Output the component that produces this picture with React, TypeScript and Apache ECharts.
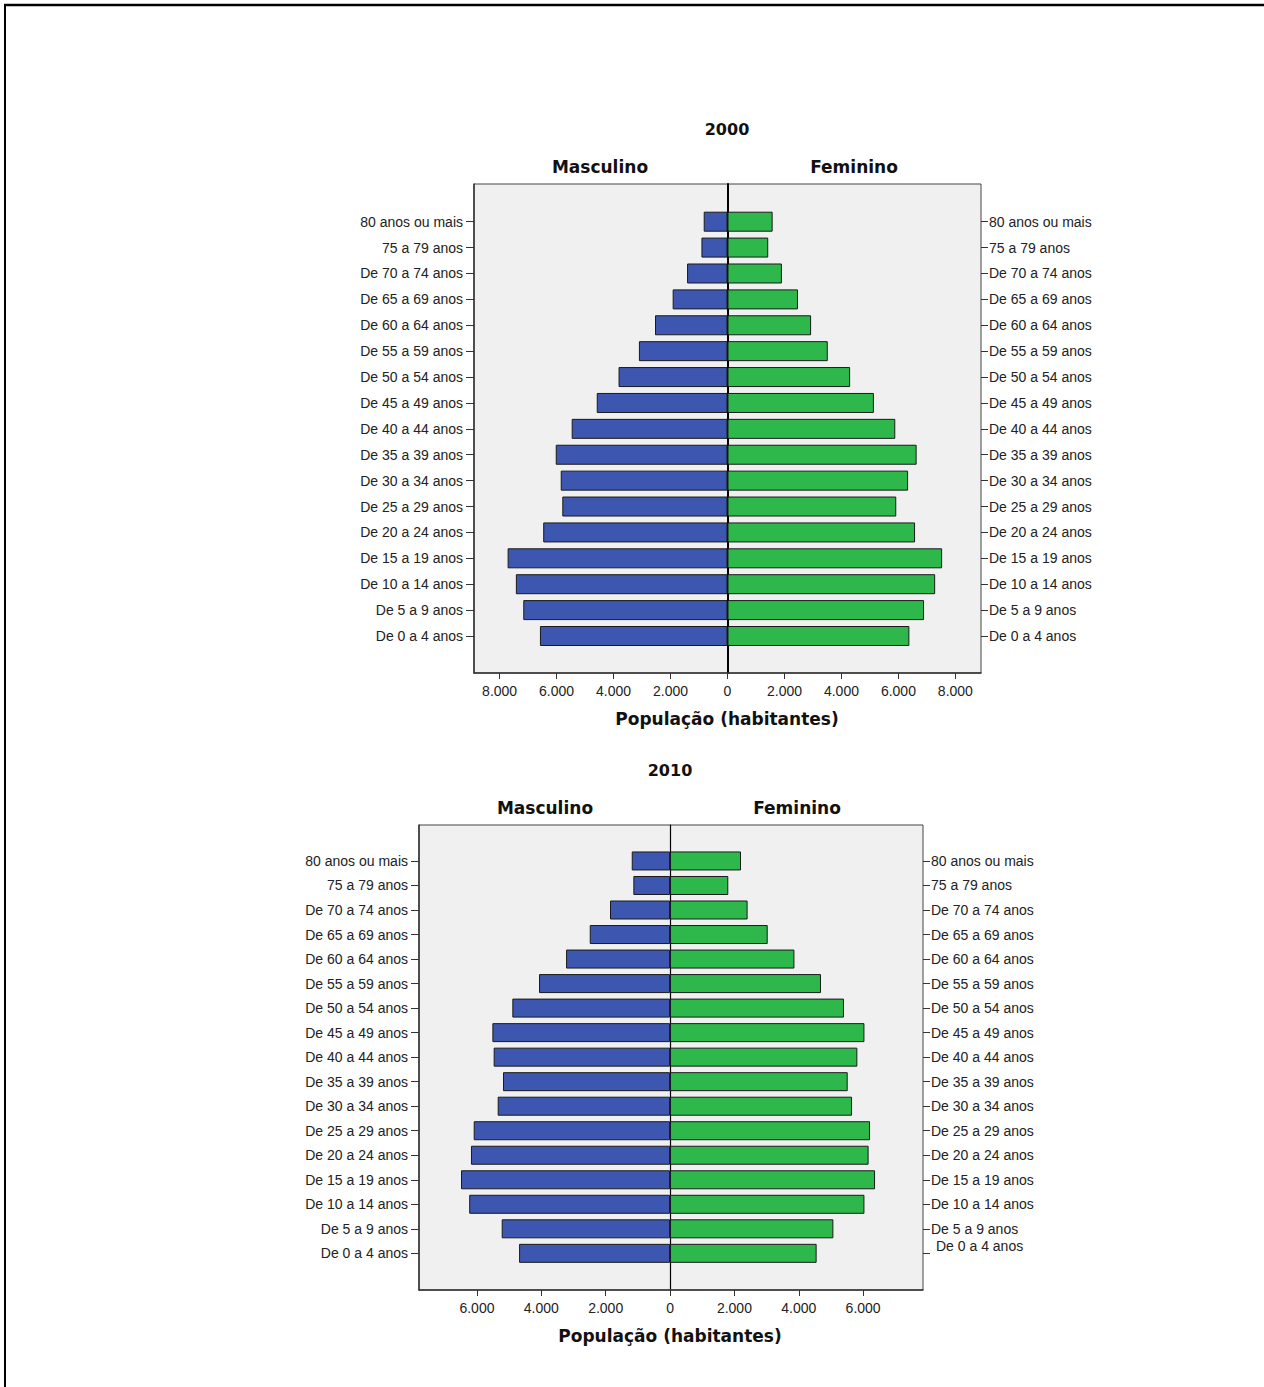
import React, { useEffect, useRef } from "react";
import * as echarts from "echarts";

const categories = [
  "De 0 a 4 anos", "De 5 a 9 anos", "De 10 a 14 anos", "De 15 a 19 anos",
  "De 20 a 24 anos", "De 25 a 29 anos", "De 30 a 34 anos", "De 35 a 39 anos",
  "De 40 a 44 anos", "De 45 a 49 anos", "De 50 a 54 anos", "De 55 a 59 anos",
  "De 60 a 64 anos", "De 65 a 69 anos", "De 70 a 74 anos", "75 a 79 anos",
  "80 anos ou mais",
];

const male2000 = [6585, 7170, 7430, 7720, 6470, 5800, 5855, 6030, 5470, 4590, 3825, 3110, 2545, 1925, 1420, 915, 835];
const female2000 = [6385, 6900, 7290, 7535, 6585, 5925, 6340, 6640, 5890, 5140, 4305, 3520, 2935, 2475, 1910, 1430, 1585];

const male2010 = [4690, 5230, 6240, 6495, 6185, 6100, 5355, 5190, 5480, 5520, 4900, 4070, 3230, 2495, 1865, 1140, 1190];
const female2010 = [4555, 5075, 6040, 6370, 6170, 6215, 5655, 5520, 5820, 6040, 5405, 4690, 3865, 3035, 2410, 1810, 2205];

const ticks2000 = [-8000, -6000, -4000, -2000, 0, 2000, 4000, 6000, 8000];
const ticks2010 = [-6000, -4000, -2000, 0, 2000, 4000, 6000];

const TITLE_FONT = "bold 17px 'DejaVu Sans', Verdana, sans-serif";
const LABEL_FAMILY = "'Liberation Sans', Arial, sans-serif";
const BLUE = "#3d56b0";
const GREEN = "#2eb84b";

const fmt = (v: number) =>
  String(Math.abs(v)).replace(/\B(?=(\d{3})+(?!\d))/g, ".");

function App() {
  const ref = useRef<HTMLDivElement>(null);

  useEffect(() => {
    if (!ref.current) return;
    const chart = echarts.init(ref.current, null, { renderer: "svg" });

    const charts = [
      {
        frame: { left: 474, top: 184, width: 507, height: 489 },
        bars: { left: 474, top: 208.75, width: 507, height: 440.2 },
        min: -8900, max: 8900, ticks: ticks2000,
        male: male2000, female: female2000, barWidth: 20, zeroWidth: 2,
        rightData: categories as any[],
      },
      {
        frame: { left: 419, top: 825, width: 504, height: 465 },
        bars: { left: 419, top: 848.7, width: 504, height: 416.9 },
        min: -7800, max: 7860, ticks: ticks2010,
        male: male2010, female: female2010, barWidth: 19, zeroWidth: 1.2,
        rightData: categories.map((c, i) =>
          i === 0
            ? { value: c, textStyle: { padding: [0, 0, 0, 5], verticalAlign: "bottom" } }
            : c
        ),
      },
    ];

    const grid: any[] = [];
    const xAxis: any[] = [];
    const yAxis: any[] = [];
    const series: any[] = [];

    charts.forEach((c, k) => {
      const gFrame = grid.length;
      grid.push({
        ...c.frame, show: true, backgroundColor: "#f0f0f0",
        borderColor: "#444", borderWidth: 1, containLabel: false,
      });
      const gBars = grid.length;
      grid.push({ ...c.bars, containLabel: false });

      xAxis.push({
        gridIndex: gFrame, type: "value", min: c.min, max: c.max,
        axisLine: { show: true, onZero: false, lineStyle: { color: "#333", width: 1.5 } },
        axisTick: { show: true, customValues: c.ticks, length: 6, lineStyle: { color: "#333", width: 1 } },
        axisLabel: {
          show: true, customValues: c.ticks, formatter: (v: number) => fmt(v),
          fontSize: 14, color: "#222", fontFamily: LABEL_FAMILY, margin: 11,
        },
        splitLine: { show: false },
      });
      yAxis.push({
        gridIndex: gFrame, type: "value", min: 0, max: 1, position: "left",
        axisLine: { show: true, onZero: false, lineStyle: { color: "#333", width: 1.5 } },
        axisTick: { show: false }, axisLabel: { show: false }, splitLine: { show: false },
      });
      yAxis.push({
        gridIndex: gFrame, type: "value", min: 0, max: 1, position: "right",
        axisLine: { show: true, onZero: true, lineStyle: { color: "#000", width: c.zeroWidth } },
        axisTick: { show: false }, axisLabel: { show: false }, splitLine: { show: false },
      });

      const xBars = xAxis.length;
      xAxis.push({
        gridIndex: gBars, type: "value", min: c.min, max: c.max, show: false,
        axisLine: { onZero: false }, splitLine: { show: false },
      });
      const yLeft = yAxis.length;
      yAxis.push({
        gridIndex: gBars, type: "category", data: categories, position: "left",
        axisLine: { show: false, onZero: false },
        axisTick: { show: true, alignWithLabel: true, length: 8, lineStyle: { color: "#333" } },
        axisLabel: { fontSize: 14, color: "#222", fontFamily: LABEL_FAMILY, margin: 11, interval: 0 },
        splitLine: { show: false },
      });
      yAxis.push({
        gridIndex: gBars, type: "category", data: c.rightData, position: "right",
        axisLine: { show: false, onZero: false },
        axisTick: { show: true, alignWithLabel: true, length: 7, lineStyle: { color: "#333" } },
        axisLabel: { fontSize: 14, color: "#222", fontFamily: LABEL_FAMILY, margin: 8, interval: 0 },
        splitLine: { show: false },
      });

      series.push({
        type: "bar", name: "Masculino" + k, xAxisIndex: xBars, yAxisIndex: yLeft,
        data: c.male.map((v) => -v), barWidth: c.barWidth, barGap: "-100%",
        itemStyle: { color: BLUE, borderColor: "#1a1a1a", borderWidth: 1 },
      });
      series.push({
        type: "bar", name: "Feminino" + k, xAxisIndex: xBars, yAxisIndex: yLeft,
        data: c.female, barWidth: c.barWidth, barGap: "-100%",
        itemStyle: { color: GREEN, borderColor: "#1a1a1a", borderWidth: 1 },
      });
    });

    const txt = (text: string, x: number, y: number, font = TITLE_FONT) => ({
      type: "text", x, y, silent: true,
      style: { text, font, fill: "#111", align: "center", verticalAlign: "middle", textAlign: "center", textVerticalAlign: "middle" },
    });

    const graphic: any[] = [
      { type: "line", shape: { x1: 4, y1: 5, x2: 1264, y2: 5 }, style: { stroke: "#000", lineWidth: 2.5 } },
      { type: "line", shape: { x1: 5, y1: 4, x2: 5, y2: 1387 }, style: { stroke: "#000", lineWidth: 2 } },
      txt("2000", 727, 129, "bold 16px 'DejaVu Sans', Verdana, sans-serif"),
      txt("Masculino", 600, 167),
      txt("Feminino", 854, 167),
      txt("População (habitantes)", 727, 719),
      txt("2010", 670, 770, "bold 16px 'DejaVu Sans', Verdana, sans-serif"),
      txt("Masculino", 545, 808),
      txt("Feminino", 797, 808),
      txt("População (habitantes)", 670, 1336),
    ];

    chart.setOption({
      animation: false,
      backgroundColor: "#ffffff",
      grid, xAxis, yAxis, series, graphic,
    });

    return () => chart.dispose();
  }, []);

  return (
    <div
      ref={ref}
      style={{ position: "absolute", left: 0, top: 0, width: 1264, height: 1387 }}
    />
  );
}

export default App;
